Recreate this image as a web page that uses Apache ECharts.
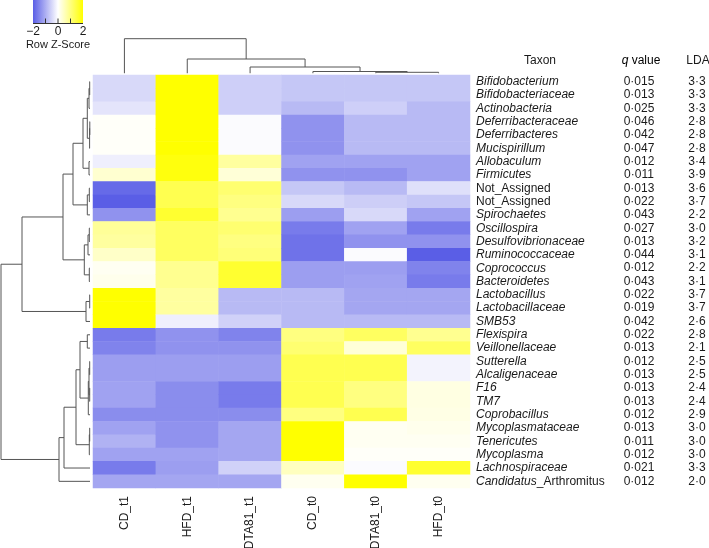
<!DOCTYPE html>
<html><head><meta charset="utf-8">
<script src="https://cdn.jsdelivr.net/npm/echarts@6/dist/echarts.min.js"></script>
<style>html,body{margin:0;padding:0;background:#fff}#c{width:709px;height:548px}</style>
</head><body><div id="c"></div>
<script>
// ---------- data ----------
const columns = ['CD_t1','HFD_t1','DTA81_t1','CD_t0','DTA81_t0','HFD_t0'];
const taxa = ['Bifidobacterium','Bifidobacteriaceae','Actinobacteria','Deferribacteraceae','Deferribacteres','Mucispirillum','Allobaculum','Firmicutes','Not_Assigned','Not_Assigned','Spirochaetes','Oscillospira','Desulfovibrionaceae','Ruminococcaceae','Coprococcus','Bacteroidetes','Lactobacillus','Lactobacillaceae','SMB53','Flexispira','Veillonellaceae','Sutterella','Alcaligenaceae','F16','TM7','Coprobacillus','Mycoplasmataceae','Tenericutes','Mycoplasma','Lachnospiraceae','Candidatus_Arthromitus'];
const qValues = ['0·015','0·013','0·025','0·046','0·042','0·047','0·012','0·011','0·013','0·022','0·043','0·027','0·013','0·044','0·012','0·043','0·022','0·019','0·042','0·022','0·013','0·012','0·013','0·013','0·013','0·012','0·013','0·011','0·012','0·021','0·012'];
const ldaValues = ['3·3','3·3','3·3','2·8','2·8','2·8','3·4','3·9','3·6','3·7','2·2','3·0','3·2','3·1','2·2','3·1','3·7','3·7','2·6','2·8','2·1','2·5','2·5','2·4','2·4','2·9','3·0','3·0','3·0','3·3','2·0'];
const keyTicks = ['−2','0','2'];

// row z-scores per column (rows in the order of taxa)
const cd_t1    = [-0.47,-0.47,-0.33,0.05,0.05,0.05,-0.2,0.37,-1.85,-2.0,-1.35,0.81,0.75,0.43,0.1,0.15,2.0,2.0,2.1,-1.64,-1.54,-1.2,-1.2,-1.15,-1.15,-1.42,-1.15,-0.96,-1.15,-1.64,-1.1];
const hfd_t1   = [2.1,2.1,2.1,2.1,2.1,2.1,1.9,1.9,1.37,1.37,1.62,1.25,1.25,1.25,0.87,0.87,0.75,0.75,-0.2,-1.35,-1.35,-1.2,-1.2,-1.42,-1.42,-1.42,-1.35,-1.35,-1.15,-1.2,-1.1];
const dta81_t1 = [-0.6,-0.6,-0.6,-0.05,-0.05,-0.05,0.75,0.31,1.12,1.0,0.87,1.12,1.0,1.06,1.62,1.62,-0.86,-0.86,-0.57,-1.54,-1.35,-1.2,-1.2,-1.64,-1.64,-1.42,-1.1,-1.1,-1.1,-0.57,-1.1];
const cd_t0    = [-0.7,-0.7,-0.86,-1.35,-1.35,-1.35,-1.15,-1.35,-0.7,-0.47,-1.2,-1.64,-1.75,-1.75,-1.2,-1.2,-0.86,-0.86,-0.86,1.0,1.12,1.37,1.37,1.37,1.37,1.0,2.1,2.1,2.1,0.5,0.12];
const dta81_t0 = [-0.7,-0.7,-0.6,-0.86,-0.86,-0.86,-1.15,-1.35,-0.86,-0.61,-0.47,-1.15,-1.35,-0.05,-1.2,-1.15,-1.1,-1.1,-0.86,1.25,0.31,1.37,1.37,1.0,1.0,1.37,0.1,0.1,0.05,-0.05,2.1];
const hfd_t0   = [-0.7,-0.7,-0.86,-0.86,-0.86,-0.86,-1.15,-1.15,-0.39,-0.7,-1.15,-1.64,-1.35,-2.0,-1.54,-1.64,-1.1,-1.1,-0.86,0.87,1.25,-0.15,-0.15,0.23,0.23,0.2,0.15,0.1,0.05,1.62,0.12];

// dendrogram merges (hclust style: negative = leaf -(i+1), positive = earlier merge, 1-based), with heights
const rowMerges = [
  [-1,-2,0.3],[1,-3,1.0],[-4,-5,0.2],[3,-6,0.4],[2,4,2.7],[-7,-8,1.0],[5,6,7],
  [-9,-10,0.7],[8,-11,2.7],[7,9,17],[-12,-13,0.7],[11,-14,2],[-15,-16,0.7],[12,13,5.7],
  [10,14,27],[-17,-18,0.3],[16,-19,4],[15,17,68],[-20,-21,2.7],[-22,-23,0.3],[-24,-25,0.3],
  [20,21,1.0],[22,-26,1.7],[19,23,10],[-27,-28,0.3],[25,-29,0.7],[24,26,14],[27,-30,26],
  [28,-31,31],[18,29,89]
];
const colMerges = [[-5,-6,1.0],[-4,1,1.8],[-3,2,6.3],[-2,3,14.3],[-1,4,34.6]];

// ---------- build ----------
const colValues = [cd_t1, hfd_t1, dta81_t1, cd_t0, dta81_t0, hfd_t0];
const heatData = [];
colValues.forEach((arr, c) => arr.forEach((v, r) => heatData.push([c, r, v])));

function dendroSegments(merges, horizontal) {
  const pos = [], hgt = [];
  const P = k => k < 0 ? -k - 1 : pos[k - 1];
  const H = k => k < 0 ? 0 : hgt[k - 1];
  const segs = [];
  merges.forEach(([a, b, h]) => {
    const pa = P(a), pb = P(b);
    pos.push((pa + pb) / 2); hgt.push(h);
    const pts = [[pa, H(a)], [pa, h], [pb, h], [pb, H(b)]];
    segs.push({coords: horizontal ? pts.map(p => [p[1], p[0]]) : pts});
  });
  return segs;
}

const FONT = "'Liberation Sans', Arial, sans-serif";
function taxonLabel(name) {
  if (name.startsWith('Not_')) return '{n|' + name + '}';
  const i = name.indexOf('_');
  if (i > 0) return '{i|' + name.slice(0, i) + '}{n|' + name.slice(i) + '}';
  return '{i|' + name + '}';
}
const rich = {
  i: {fontStyle: 'italic', fontSize: 12, fontFamily: FONT, color: '#1a1a1a'},
  n: {fontSize: 12, fontFamily: FONT, color: '#1a1a1a'}
};
const BLUE = '#5a5ee6';
const chart = echarts.init(document.getElementById('c'));
const hidden = {show: false};
chart.setOption({
  animation: false,
  backgroundColor: '#fff',
  textStyle: {fontFamily: FONT},
  grid: [
    {left: 93, top: 75, width: 377, height: 413, outerBoundsMode: 'none'},
    {left: 0, top: 75, width: 90, height: 413, outerBoundsMode: 'none'},
    {left: 93, top: 35, width: 377, height: 38.3, outerBoundsMode: 'none'}
  ],
  xAxis: [
    {gridIndex: 0, type: 'category', data: columns, position: 'bottom',
     axisLine: hidden, axisTick: hidden, splitLine: hidden,
     axisLabel: {interval: 0, rotate: 90, margin: 8, fontSize: 12, color: '#1a1a1a', fontFamily: FONT}},
    {gridIndex: 1, type: 'value', min: 0, max: 90, inverse: true, show: false},
    {gridIndex: 2, type: 'value', min: -0.5, max: 5.5, show: false}
  ],
  yAxis: [
    {gridIndex: 0, type: 'category', data: taxa.map((t, i) => String(i)), inverse: true, position: 'right',
     axisLine: hidden, axisTick: hidden, splitLine: hidden,
     axisLabel: {interval: 0, margin: 6, formatter: (v, i) => taxonLabel(taxa[i]), rich: rich}},
    {gridIndex: 1, type: 'value', min: -0.5, max: 30.5, inverse: true, show: false},
    {gridIndex: 2, type: 'value', min: 0, max: 38.3, show: false},
    {gridIndex: 0, type: 'category', data: qValues.map((t, i) => String(i)), inverse: true, position: 'right', offset: 169,
     axisLine: hidden, axisTick: hidden, splitLine: hidden,
     axisLabel: {interval: 0, margin: 0, align: 'center', formatter: (v, i) => qValues[i], fontSize: 12, color: '#1a1a1a', fontFamily: FONT}},
    {gridIndex: 0, type: 'category', data: ldaValues.map((t, i) => String(i)), inverse: true, position: 'right', offset: 227,
     axisLine: hidden, axisTick: hidden, splitLine: hidden,
     axisLabel: {interval: 0, margin: 0, align: 'center', formatter: (v, i) => ldaValues[i], fontSize: 12, color: '#1a1a1a', fontFamily: FONT}}
  ],
  visualMap: {type: 'continuous', show: false, min: -2, max: 2, dimension: 2, seriesIndex: 0,
    inRange: {color: [BLUE, '#ffffff', '#ffff00']}},
  series: [
    {type: 'heatmap', xAxisIndex: 0, yAxisIndex: 0, data: heatData, itemStyle: {borderWidth: 0}},
    {type: 'lines', coordinateSystem: 'cartesian2d', xAxisIndex: 1, yAxisIndex: 1, polyline: true,
     data: dendroSegments(rowMerges, true), lineStyle: {color: '#555', width: 1, opacity: 1}, silent: true},
    {type: 'lines', coordinateSystem: 'cartesian2d', xAxisIndex: 2, yAxisIndex: 2, polyline: true,
     data: dendroSegments(colMerges, false), lineStyle: {color: '#555', width: 1, opacity: 1}, silent: true}
  ],
  graphic: [
    {type: 'rect', shape: {x: 33, y: 0, width: 50, height: 23.5},
     style: {fill: new echarts.graphic.LinearGradient(0, 0, 1, 0, [
       {offset: 0, color: BLUE}, {offset: 0.5, color: '#ffffff'}, {offset: 1, color: '#ffff00'}])}},
    {type: 'line', shape: {x1: 33, y1: 23.5, x2: 83, y2: 23.5}, style: {stroke: '#333', lineWidth: 1}},
    {type: 'line', shape: {x1: 45.5, y1: 18.5, x2: 45.5, y2: 23.5}, style: {stroke: '#333', lineWidth: 1}},
    {type: 'line', shape: {x1: 58, y1: 18.5, x2: 58, y2: 23.5}, style: {stroke: '#333', lineWidth: 1}},
    {type: 'line', shape: {x1: 70.5, y1: 18.5, x2: 70.5, y2: 23.5}, style: {stroke: '#333', lineWidth: 1}},
    {type: 'text', x: 33, y: 32, style: {text: keyTicks[0], font: '12px ' + FONT, fill: '#1a1a1a', align: 'center', verticalAlign: 'middle'}},
    {type: 'text', x: 58, y: 32, style: {text: keyTicks[1], font: '12px ' + FONT, fill: '#1a1a1a', align: 'center', verticalAlign: 'middle'}},
    {type: 'text', x: 83, y: 32, style: {text: keyTicks[2], font: '12px ' + FONT, fill: '#1a1a1a', align: 'center', verticalAlign: 'middle'}},
    {type: 'text', x: 58, y: 45, style: {text: 'Row Z-Score', font: '11px ' + FONT, fill: '#1a1a1a', align: 'center', verticalAlign: 'middle'}},
    {type: 'text', x: 540, y: 61, style: {text: 'Taxon', font: '12px ' + FONT, fill: '#1a1a1a', align: 'center', verticalAlign: 'middle'}},
    {type: 'text', x: 641, y: 61, style: {text: '{i|q} {n|value}', rich: rich, align: 'center', verticalAlign: 'middle'}},
    {type: 'text', x: 698, y: 61, style: {text: 'LDA', font: '12px ' + FONT, fill: '#1a1a1a', align: 'center', verticalAlign: 'middle'}}
  ]
});
</script>
</body></html>
